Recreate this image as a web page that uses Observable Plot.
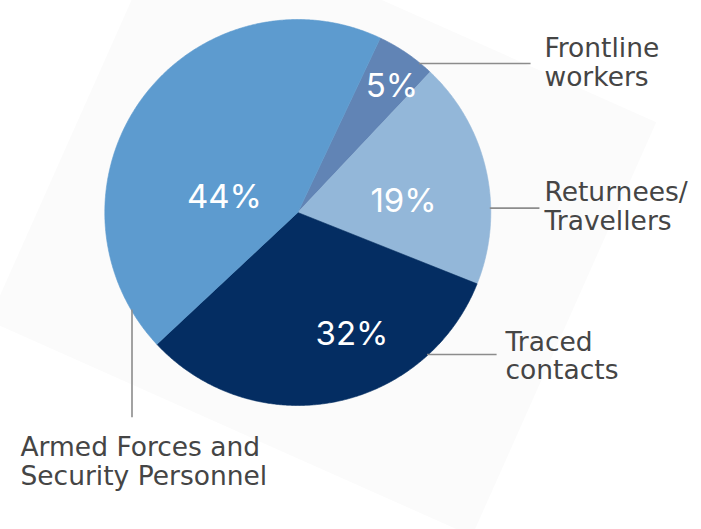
<!DOCTYPE html>
<html>
<head>
<meta charset="utf-8">
<script src="https://cdn.jsdelivr.net/npm/d3@7"></script>
<script src="https://cdn.jsdelivr.net/npm/@observablehq/plot@0.6"></script>
<style>
  html, body { margin: 0; padding: 0; background: #ffffff; overflow: hidden; }
  #wrap { position: relative; width: 701px; height: 529px; overflow: hidden; }
  #bg { position: absolute; left: 57.5px; top: -5.5px; width: 529px; height: 453px;
        background: #fbfbfb; transform: rotate(24deg); transform-origin: 50% 50%; }
  #chart { position: absolute; left: 0; top: 0; }
</style>
</head>
<body>
<div id="wrap"><div id="bg"></div><div id="chart"></div></div>
<script>
// ---- data ----
const categories = ["Frontline workers", "Returnees/Travellers", "Traced contacts", "Armed Forces and Security Personnel"];
const labelText = ["Frontline\nworkers", "Returnees/\nTravellers", "Traced\ncontacts", "Armed Forces and\nSecurity Personnel"];
const values = [5, 19, 32, 44];
const pctText = ["5%", "19%", "32%", "44%"];
const colors = ["#6184b5", "#93b7d9", "#042d62", "#5d9bcf"];

// ---- layout (unit-circle coordinates, radius 1) ----
const startDeg = 25.3;
const pctPos = [[0.488, 0.601], [0.548, 0.005], [0.281, -0.689], [-0.380, 0.021]];
const leaders = [
  {angle: 39.1, dir: "h", end: 1.206},
  {angle: 88.7, dir: "h", end: 1.252},
  {angle: 137.7, dir: "h", end: 1.030},
  {angle: 239.7, dir: "v", end: -1.061}
];
const labelPos = [[1.278, 0.658], [1.278, -0.0896], [1.076, -0.862], [-1.437, -1.411]];

// ---- build ----
const rad = Math.PI / 180;
const arcs = d3.pie().sort(null).value(d => d)
  .startAngle(startDeg * rad).endAngle(startDeg * rad + 2 * Math.PI)(values);

const slices = arcs.map((a, i) => {
  const pts = [{x: 0, y: 0}];
  const n = Math.max(2, Math.ceil((a.endAngle - a.startAngle) / (0.4 * rad)));
  for (let k = 0; k <= n; k++) {
    const t = a.startAngle + (a.endAngle - a.startAngle) * k / n;
    pts.push({x: Math.sin(t), y: Math.cos(t)});
  }
  pts.push({x: 0, y: 0});
  return {pts, color: colors[i], category: categories[i]};
});

const leaderData = leaders.map((l, i) => {
  const sx = 0.995 * Math.sin(l.angle * rad), sy = 0.995 * Math.cos(l.angle * rad);
  return {category: categories[i], x1: sx, y1: sy,
          x2: l.dir === "h" ? l.end : sx, y2: l.dir === "h" ? sy : l.end};
});

const pctData = values.map((v, i) => ({text: pctText[i], x: pctPos[i][0], y: pctPos[i][1]}));
const labData = labelText.map((t, i) => ({text: t, x: labelPos[i][0], y: labelPos[i][1]}));

const cx = 297.3, cy = 212, R = 193, W = 701, H = 529;

const chart = Plot.plot({
  width: W, height: H, margin: 0,
  style: {background: "transparent", overflow: "visible"},
  x: {domain: [-cx / R, (W - cx) / R], axis: null},
  y: {domain: [(cy - H) / R, cy / R], axis: null},
  marks: [
    ...slices.map(s => Plot.line(s.pts, {x: "x", y: "y", fill: s.color, stroke: s.color, strokeWidth: 0.6, curve: "linear"})),
    Plot.link(leaderData, {x1: "x1", y1: "y1", x2: "x2", y2: "y2", stroke: "#8c8c8c", strokeWidth: 1.6}),
    Plot.text(pctData, {x: "x", y: "y", text: "text", fill: "white", fontSize: 33, fontFamily: "Inter, Roboto, sans-serif",
      textAnchor: "middle", lineAnchor: "bottom", letterSpacing: "-0.8px"}),
    Plot.text(labData, {x: "x", y: "y", text: "text", fill: "#454545", fontSize: 26.5, fontFamily: "DejaVu Sans, sans-serif",
      textAnchor: "start", lineAnchor: "bottom", lineHeight: 1.07})
  ]
});
document.getElementById("chart").appendChild(chart);
</script>
</body>
</html>
